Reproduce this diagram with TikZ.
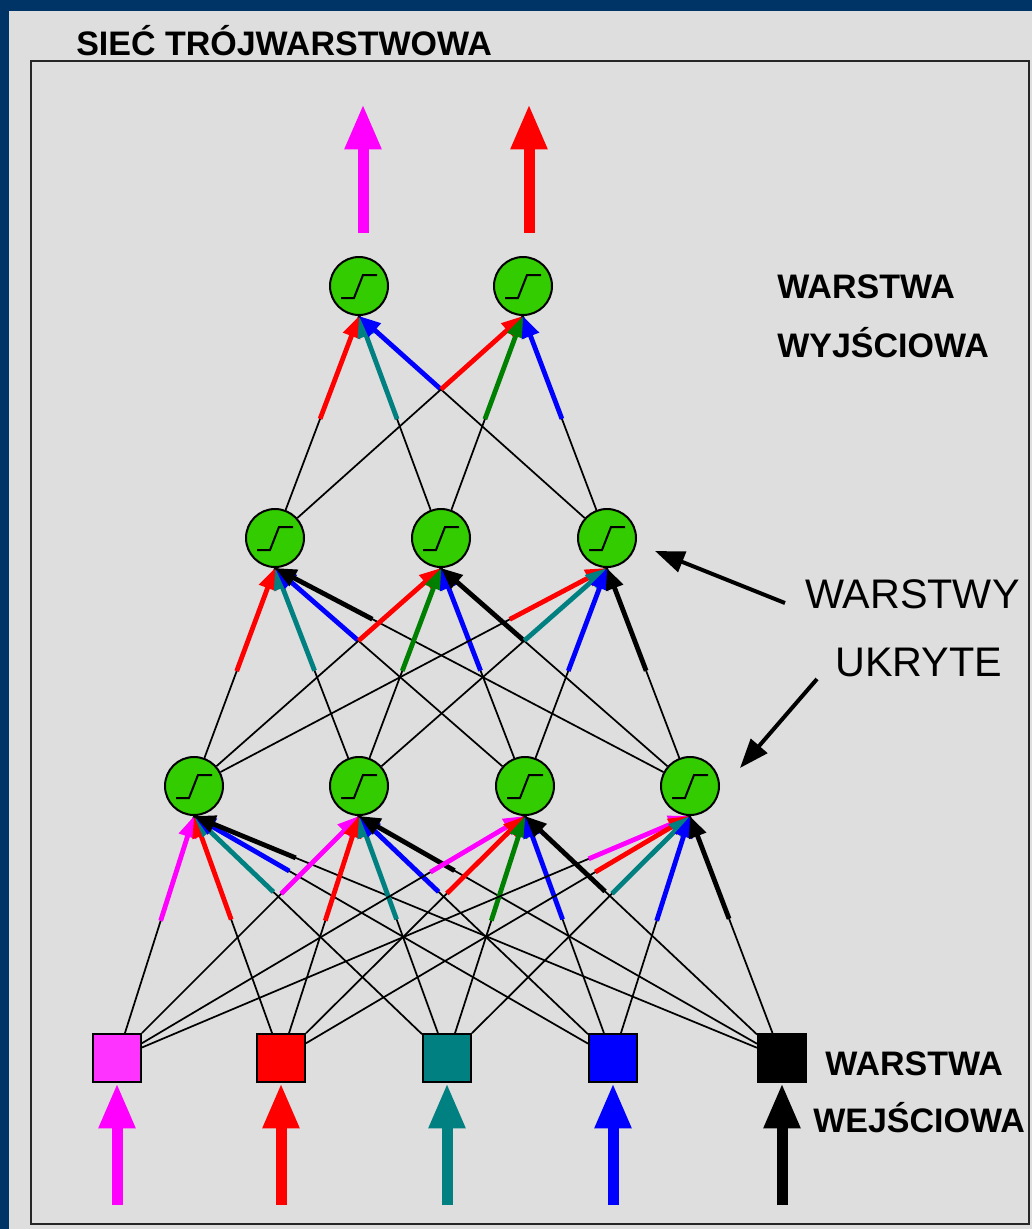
\documentclass[tikz,border=0pt]{standalone}
\usepackage{fontspec}
\setmainfont{Liberation Sans}
\usetikzlibrary{arrows.meta,calc}

\definecolor{frameblue}{RGB}{0,51,102}
\definecolor{panelgray}{RGB}{222,222,222}
\definecolor{neurongreen}{RGB}{51,204,0}
\definecolor{inmag}{RGB}{255,51,255}
\definecolor{arrmag}{RGB}{255,0,255}
\definecolor{tealc}{RGB}{0,128,128}
\definecolor{greenc}{RGB}{0,128,0}

\pgfdeclarelayer{panel}
\pgfdeclarelayer{wires}
\pgfsetlayers{panel,wires,main}

\tikzset{
  neuron/.style={circle, draw=black, line width=1.5pt, fill=neurongreen,
    minimum size=43.5pt, inner sep=0pt,
    path picture={\draw[line width=1.5pt]
      ([shift={(-18,12)}]path picture bounding box.center) -- ++(13,0)
      -- ++(9,-23) -- ++(14,0);}},
  inbox/.style={draw=black, line width=1.5pt, minimum size=36pt, inner sep=0pt},
  wire/.style={line width=1.3pt, black},
  wirearrow/.style={line width=3.6pt, -{Triangle[length=16pt,width=13pt]}},
  bigarrow/.style={line width=8.25pt, -{Triangle[length=34pt,width=25.5pt]}},
  notearrow/.style={line width=3pt, -{Triangle[length=22pt,width=16pt]}},
  boldlabel/.style={inner sep=0pt, anchor=base west,
    font=\bfseries\fontsize{25.5pt}{30pt}\selectfont},
  biglabel/.style={inner sep=0pt, anchor=base west,
    font=\fontsize{31pt}{36pt}\selectfont},
}

\begin{document}
\begin{tikzpicture}[x=0.75pt,y=-0.75pt]
\useasboundingbox (0,0) rectangle (1032,1229);

\begin{pgfonlayer}{panel}
  \fill[frameblue] (0,0) rectangle (1032,1229);
  \fill[panelgray] (9,11) rectangle (1032,1229);
  \draw[line width=2.2pt, black!85] (31,61) rectangle (1029,1224);
\end{pgfonlayer}

% title and layer names
\node[boldlabel] (title) at (76,55) {SIEĆ TRÓJWARSTWOWA};
\node[boldlabel] (outA) at (777,298) {WARSTWA};
\node[boldlabel] (outB) at (777,357) {WYJŚCIOWA};
\node[biglabel] (hidA) at (805,608) {WARSTWY};
\node[biglabel] (hidB) at (835,676) {UKRYTE};
\node[boldlabel] (inA) at (825,1075) {WARSTWA};
\node[boldlabel] (inB) at (813,1132) {WEJŚCIOWA};

% input layer
\node[inbox, fill=inmag] (i1) at (117,1058) {};
\node[inbox, fill=red]   (i2) at (281,1058) {};
\node[inbox, fill=tealc] (i3) at (447,1058) {};
\node[inbox, fill=blue]  (i4) at (613,1058) {};
\node[inbox, fill=black] (i5) at (782,1058) {};

% first hidden layer
\node[neuron] (a1) at (194,786) {};
\node[neuron] (a2) at (359,786) {};
\node[neuron] (a3) at (525,786) {};
\node[neuron] (a4) at (690,786) {};

% second hidden layer
\node[neuron] (b1) at (275,538) {};
\node[neuron] (b2) at (441,538) {};
\node[neuron] (b3) at (607,538) {};

% output layer
\node[neuron] (o1) at (359,286) {};
\node[neuron] (o2) at (523,286) {};

% weighted connections: thin wire, coloured arrow on its last part
\begin{pgfonlayer}{wires}
  \foreach \t/\c in {a1/tealc, a2/tealc, a3/greenc, a4/tealc}{
    \foreach \s/\col in {i1/arrmag, i2/red, i3/\c, i4/blue, i5/black}{
      \draw[wire] (\s) -- (\t.south);
      \draw[wirearrow, draw=\col, fill=\col] ($(\t.south)!82.5pt!(\s)$) -- (\t.south);
    }
  }
  \foreach \t/\c in {b1/tealc, b2/greenc, b3/tealc}{
    \foreach \s/\col in {a1/red, a2/\c, a3/blue, a4/black}{
      \draw[wire] (\s) -- (\t.south);
      \draw[wirearrow, draw=\col, fill=\col] ($(\t.south)!82.5pt!(\s)$) -- (\t.south);
    }
  }
  \foreach \t/\c in {o1/tealc, o2/greenc}{
    \foreach \s/\col in {b1/red, b2/\c, b3/blue}{
      \draw[wire] (\s) -- (\t.south);
      \draw[wirearrow, draw=\col, fill=\col] ($(\t.south)!82.5pt!(\s)$) -- (\t.south);
    }
  }
\end{pgfonlayer}

% input signals
\foreach \n/\x/\col in {1/117/arrmag, 2/281/red, 3/447/tealc, 4/613/blue, 5/782/black}{
  \coordinate (u\n) at (\x,1205);
  \draw[bigarrow, draw=\col, fill=\col] (u\n) -- (i\n.south);
}

% output signals
\coordinate (v1s) at (363,233);
\coordinate (v1e) at (363,104);
\coordinate (v2s) at (529,233);
\coordinate (v2e) at (529,104);
\draw[bigarrow, draw=arrmag, fill=arrmag] (v1s) -- (v1e);
\draw[bigarrow, draw=red, fill=red] (v2s) -- (v2e);

% pointers to the hidden layers
\coordinate (p1) at (785,603);
\coordinate (q1) at (655,551);
\coordinate (p2) at (817,679);
\coordinate (q2) at (740,768);
\draw[notearrow] (p1) -- (q1);
\draw[notearrow] (p2) -- (q2);
\end{tikzpicture}
\end{document}
